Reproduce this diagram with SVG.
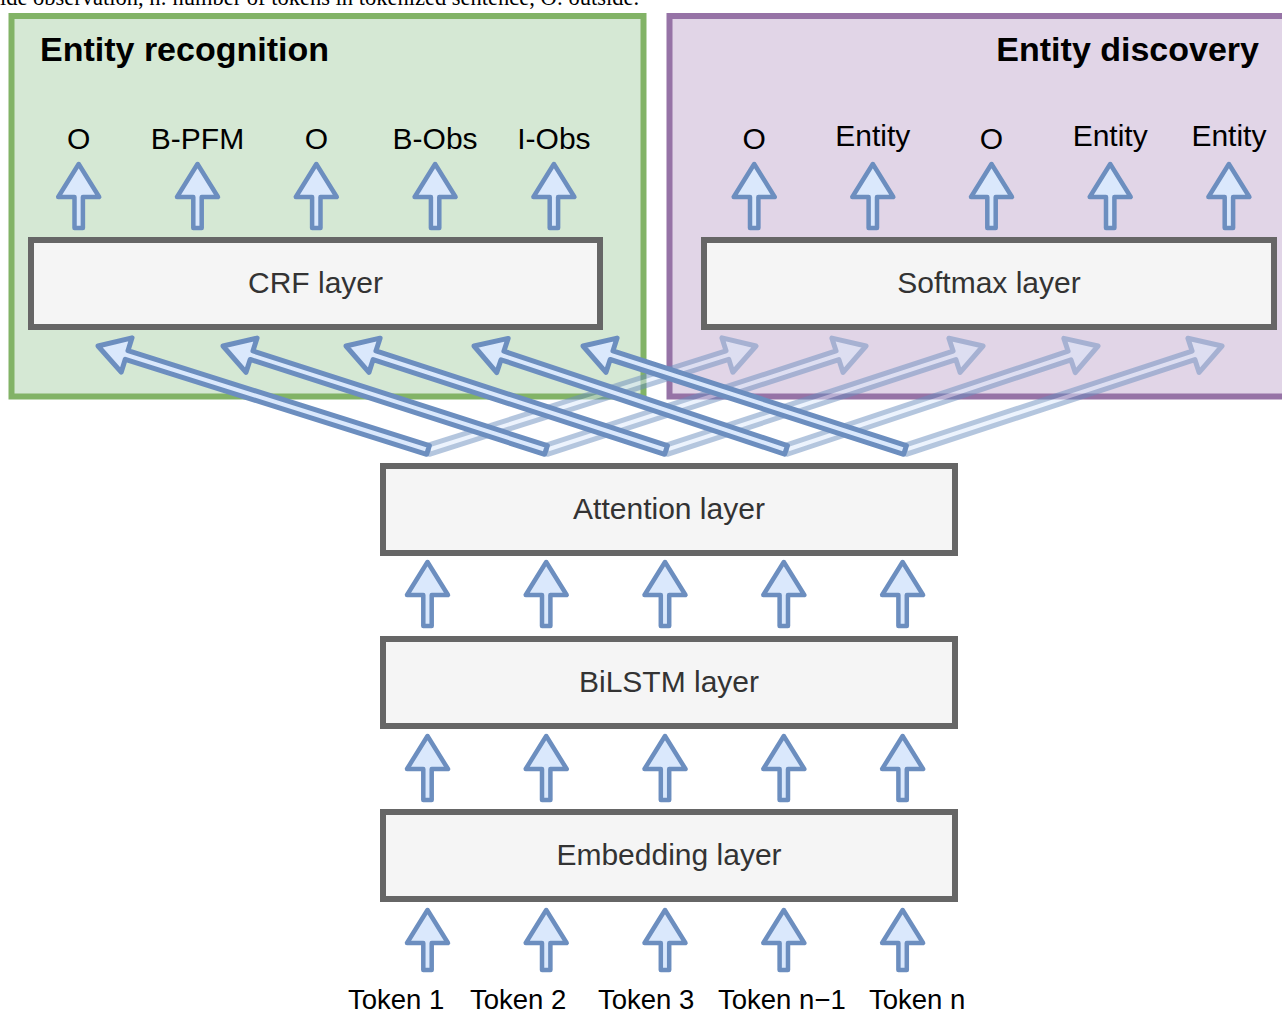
<svg xmlns="http://www.w3.org/2000/svg" xmlns:xlink="http://www.w3.org/1999/xlink" width="1282" height="1011" viewBox="0 0 1282 1011">
<style>
.caption{font-family:"Liberation Serif","Times New Roman",serif;font-size:22.5px;fill:#000}
.title{font-family:"Liberation Sans",Arial,sans-serif;font-size:34px;font-weight:bold;fill:#000}
.lbl{font-family:"Liberation Sans",Arial,sans-serif;font-size:30px;fill:#000;text-anchor:middle}
.tok{font-family:"Liberation Sans",Arial,sans-serif;font-size:27.5px;fill:#000}
.ltxt{font-family:"Liberation Sans",Arial,sans-serif;font-size:30px;fill:#333333;text-anchor:middle}
.layer{fill:#f5f5f5;stroke:#666666;stroke-width:6}
.arr{fill:#dae8fc;stroke:#6c8ebf;stroke-width:4.5;stroke-linejoin:round}
.darr{fill:#dae8fc;stroke:#6c8ebf;stroke-width:5;stroke-linejoin:round}
.faint{opacity:0.5}
</style>
<defs>
<path id="up64" d="M0,0 L20.5,33 L4.2,33 L4.2,64 L-4.2,64 L-4.2,33 L-20.5,33 Z"/>
<path id="up60" d="M0,0 L20.5,33 L4.2,33 L4.2,60 L-4.2,60 L-4.2,33 L-20.5,33 Z"/>
</defs>
<rect width="1282" height="1011" fill="#ffffff"/>
<text class="caption" x="0" y="4.5">ide observation, n: number of tokens in tokenized sentence, O: outside.</text>

<g id="entity-recognition">
<rect x="11.5" y="16" width="632" height="380.5" fill="#d5e8d4" stroke="#82b366" stroke-width="6"/>
<text class="title" x="40" y="61">Entity recognition</text>
</g>
<g id="entity-discovery">
<rect x="669.5" y="16" width="650" height="380.5" fill="#e1d5e7" stroke="#9673a6" stroke-width="6"/>
<text class="title" x="1259" y="61" text-anchor="end">Entity discovery</text>
</g>

<g id="crf-layer">
<rect class="layer" x="31" y="240" width="569" height="87"/>
<text class="ltxt" x="315.5" y="293">CRF layer</text>
</g>
<g id="softmax-layer">
<rect class="layer" x="704" y="240" width="570" height="87"/>
<text class="ltxt" x="989" y="293">Softmax layer</text>
</g>
<g id="attention-layer">
<rect class="layer" x="383" y="466" width="572" height="87"/>
<text class="ltxt" x="669" y="519">Attention layer</text>
</g>
<g id="bilstm-layer">
<rect class="layer" x="383" y="639" width="572" height="87"/>
<text class="ltxt" x="669" y="692">BiLSTM layer</text>
</g>
<g id="embedding-layer">
<rect class="layer" x="383" y="812" width="572" height="87"/>
<text class="ltxt" x="669" y="865">Embedding layer</text>
</g>

<g id="crf-outputs">
<text class="lbl" x="78.7" y="149">O</text>
<text class="lbl" x="197.5" y="149">B-PFM</text>
<text class="lbl" x="316.3" y="149">O</text>
<text class="lbl" x="435.1" y="149">B-Obs</text>
<text class="lbl" x="553.9" y="149">I-Obs</text>
</g>
<g id="softmax-outputs">
<text class="lbl" x="754.2" y="149">O</text>
<text class="lbl" x="872.8" y="146">Entity</text>
<text class="lbl" x="991.5" y="149">O</text>
<text class="lbl" x="1110.2" y="146">Entity</text>
<text class="lbl" x="1228.9" y="146">Entity</text>
</g>
<g id="tokens">
<text class="tok" x="348" y="1009">Token 1</text>
<text class="tok" x="470" y="1009">Token 2</text>
<text class="tok" x="598" y="1009">Token 3</text>
<text class="tok" x="718" y="1009">Token n−1</text>
<text class="tok" x="869" y="1009">Token n</text>
</g>

<g id="connectors">
<g id="crf-up">
<use class="arr" href="#up64" xlink:href="#up64" x="78.7" y="164"/>
<use class="arr" href="#up64" xlink:href="#up64" x="197.5" y="164"/>
<use class="arr" href="#up64" xlink:href="#up64" x="316.3" y="164"/>
<use class="arr" href="#up64" xlink:href="#up64" x="435.1" y="164"/>
<use class="arr" href="#up64" xlink:href="#up64" x="553.9" y="164"/>
</g>
<g id="softmax-up">
<use class="arr" href="#up64" xlink:href="#up64" x="754.2" y="164"/>
<use class="arr" href="#up64" xlink:href="#up64" x="872.8" y="164"/>
<use class="arr" href="#up64" xlink:href="#up64" x="991.5" y="164"/>
<use class="arr" href="#up64" xlink:href="#up64" x="1110.2" y="164"/>
<use class="arr" href="#up64" xlink:href="#up64" x="1228.9" y="164"/>
</g>
<g id="bilstm-to-attention">
<use class="arr" href="#up64" xlink:href="#up64" x="427.5" y="562"/>
<use class="arr" href="#up64" xlink:href="#up64" x="546.2" y="562"/>
<use class="arr" href="#up64" xlink:href="#up64" x="665" y="562"/>
<use class="arr" href="#up64" xlink:href="#up64" x="783.8" y="562"/>
<use class="arr" href="#up64" xlink:href="#up64" x="902.6" y="562"/>
</g>
<g id="embedding-to-bilstm">
<use class="arr" href="#up64" xlink:href="#up64" x="427.5" y="736"/>
<use class="arr" href="#up64" xlink:href="#up64" x="546.2" y="736"/>
<use class="arr" href="#up64" xlink:href="#up64" x="665" y="736"/>
<use class="arr" href="#up64" xlink:href="#up64" x="783.8" y="736"/>
<use class="arr" href="#up64" xlink:href="#up64" x="902.6" y="736"/>
</g>
<g id="tokens-to-embedding">
<use class="arr" href="#up60" xlink:href="#up60" x="427.5" y="910"/>
<use class="arr" href="#up60" xlink:href="#up60" x="546.2" y="910"/>
<use class="arr" href="#up60" xlink:href="#up60" x="665" y="910"/>
<use class="arr" href="#up60" xlink:href="#up60" x="783.8" y="910"/>
<use class="arr" href="#up60" xlink:href="#up60" x="902.6" y="910"/>
</g>
<g id="attention-to-softmax">
<path class="darr faint" transform="translate(756,346) rotate(-17.59)" d="M0,0 L-30,-18 L-30,-4.5 L-344.1,-4.5 L-344.1,4.5 L-30,4.5 L-30,18 Z"/>
<path class="darr faint" transform="translate(866,346) rotate(-18.0)" d="M0,0 L-30,-18 L-30,-4.5 L-336.5,-4.5 L-336.5,4.5 L-30,4.5 L-30,18 Z"/>
<path class="darr faint" transform="translate(983,346) rotate(-18.16)" d="M0,0 L-30,-18 L-30,-4.5 L-333.6,-4.5 L-333.6,4.5 L-30,4.5 L-30,18 Z"/>
<path class="darr faint" transform="translate(1098,346) rotate(-18.43)" d="M0,0 L-30,-18 L-30,-4.5 L-328.9,-4.5 L-328.9,4.5 L-30,4.5 L-30,18 Z"/>
<path class="darr faint" transform="translate(1222,346) rotate(-18.16)" d="M0,0 L-30,-18 L-30,-4.5 L-333.6,-4.5 L-333.6,4.5 L-30,4.5 L-30,18 Z"/>
</g>
<g id="attention-to-crf">
<path class="darr" transform="translate(98,346) rotate(197.49)" d="M0,0 L-30,-18 L-30,-4.5 L-346,-4.5 L-346,4.5 L-30,4.5 L-30,18 Z"/>
<path class="darr" transform="translate(223,346) rotate(197.85)" d="M0,0 L-30,-18 L-30,-4.5 L-339.3,-4.5 L-339.3,4.5 L-30,4.5 L-30,18 Z"/>
<path class="darr" transform="translate(346,346) rotate(198.0)" d="M0,0 L-30,-18 L-30,-4.5 L-336.5,-4.5 L-336.5,4.5 L-30,4.5 L-30,18 Z"/>
<path class="darr" transform="translate(474,346) rotate(198.43)" d="M0,0 L-30,-18 L-30,-4.5 L-328.9,-4.5 L-328.9,4.5 L-30,4.5 L-30,18 Z"/>
<path class="darr" transform="translate(583,346) rotate(197.9)" d="M0,0 L-30,-18 L-30,-4.5 L-338.4,-4.5 L-338.4,4.5 L-30,4.5 L-30,18 Z"/>
</g>
</g>
</svg>
